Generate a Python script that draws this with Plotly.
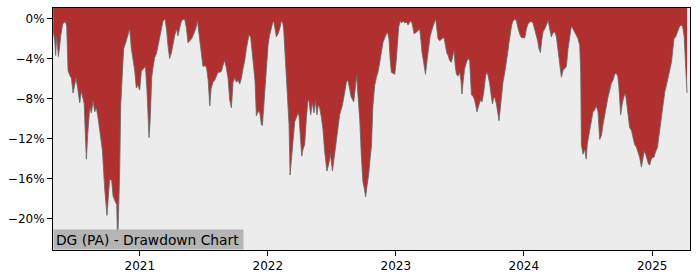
import pandas as pd
import plotly.graph_objects as go

# Time as decimal years, drawdown in percent
t_years = [
    2020.324, 2020.336, 2020.343, 2020.351, 2020.365, 2020.375, 2020.383, 2020.398, 2020.419, 2020.429,
    2020.440, 2020.453, 2020.466, 2020.479, 2020.492, 2020.502, 2020.515, 2020.531, 2020.544, 2020.554,
    2020.566, 2020.574, 2020.583, 2020.593, 2020.609, 2020.622, 2020.635, 2020.648, 2020.661, 2020.674,
    2020.687, 2020.708, 2020.726, 2020.744, 2020.753, 2020.765, 2020.781, 2020.791, 2020.808, 2020.820,
    2020.827, 2020.835, 2020.843, 2020.851, 2020.864, 2020.874, 2020.890, 2020.908, 2020.921, 2020.934,
    2020.947, 2020.960, 2020.973, 2020.986, 2020.999, 2021.012, 2021.030, 2021.044, 2021.056, 2021.072,
    2021.081, 2021.093, 2021.103, 2021.116, 2021.130, 2021.142, 2021.155,
    2021.169, 2021.181, 2021.197, 2021.210, 2021.220, 2021.233, 2021.247, 2021.259, 2021.272, 2021.286,
    2021.298, 2021.311, 2021.325, 2021.337, 2021.351, 2021.364, 2021.376, 2021.390, 2021.405, 2021.421,
    2021.436, 2021.450, 2021.462, 2021.475, 2021.493, 2021.511, 2021.522, 2021.534, 2021.546, 2021.557,
    2021.571, 2021.585, 2021.598, 2021.610, 2021.624, 2021.637, 2021.649, 2021.663, 2021.676, 2021.689,
    2021.702, 2021.715, 2021.728, 2021.741, 2021.754, 2021.767, 2021.780, 2021.793, 2021.806, 2021.819,
    2021.832, 2021.845, 2021.852, 2021.866, 2021.879, 2021.891, 2021.899, 2021.910, 2021.923, 2021.936,
    2021.949, 2021.957, 2021.967, 2021.977, 2021.988, 2021.993, 2022.001, 2022.012, 2022.027, 2022.037,
    2022.045, 2022.055, 2022.066, 2022.079, 2022.092, 2022.105, 2022.116, 2022.123, 2022.144, 2022.157,
    2022.165, 2022.173, 2022.183, 2022.196, 2022.209, 2022.225, 2022.235, 2022.243, 2022.254, 2022.264,
    2022.274, 2022.287, 2022.301, 2022.313, 2022.321, 2022.334, 2022.347, 2022.360, 2022.371, 2022.383,
    2022.393, 2022.404, 2022.418, 2022.430, 2022.443, 2022.461, 2022.475, 2022.488, 2022.504, 2022.516,
    2022.525, 2022.539, 2022.560, 2022.582, 2022.594, 2022.613, 2022.625, 2022.639, 2022.650, 2022.670,
    2022.681, 2022.693, 2022.703, 2022.717, 2022.730, 2022.742, 2022.753, 2022.763, 2022.775, 2022.787,
    2022.799, 2022.808, 2022.820, 2022.834, 2022.847, 2022.859, 2022.873, 2022.886, 2022.898, 2022.912,
    2022.925, 2022.935, 2022.945, 2022.955, 2022.964, 2022.977, 2022.990, 2023.002, 2023.011, 2023.021,
    2023.033, 2023.044, 2023.055, 2023.068, 2023.081, 2023.094, 2023.107, 2023.120, 2023.130, 2023.141,
    2023.154, 2023.167, 2023.185, 2023.195, 2023.203, 2023.216, 2023.230, 2023.244, 2023.255, 2023.267,
    2023.276, 2023.289, 2023.302, 2023.310, 2023.320, 2023.328, 2023.341, 2023.354, 2023.367, 2023.375,
    2023.384, 2023.396, 2023.407, 2023.419, 2023.432, 2023.443, 2023.453, 2023.462, 2023.472, 2023.484,
    2023.497, 2023.507, 2023.515, 2023.525, 2023.536, 2023.550, 2023.562, 2023.575, 2023.589, 2023.601,
    2023.614, 2023.632, 2023.646, 2023.659, 2023.671, 2023.685, 2023.700, 2023.710, 2023.718, 2023.731,
    2023.743, 2023.753, 2023.763, 2023.770, 2023.784, 2023.794, 2023.804, 2023.813, 2023.823, 2023.835,
    2023.849, 2023.862, 2023.872, 2023.882, 2023.893, 2023.903, 2023.913, 2023.927, 2023.938, 2023.948,
    2023.958, 2023.971, 2023.981, 2023.991, 2024.005, 2024.018, 2024.030, 2024.044, 2024.057, 2024.069,
    2024.083, 2024.096, 2024.106, 2024.116, 2024.127, 2024.137, 2024.148, 2024.161, 2024.174, 2024.188,
    2024.200, 2024.213, 2024.226, 2024.239, 2024.252, 2024.265, 2024.278, 2024.291, 2024.304, 2024.317,
    2024.330, 2024.343, 2024.356, 2024.369, 2024.382, 2024.395, 2024.408, 2024.421, 2024.434, 2024.442,
    2024.447, 2024.460, 2024.473, 2024.485, 2024.493, 2024.507, 2024.520, 2024.538, 2024.551, 2024.564,
    2024.577, 2024.590, 2024.603, 2024.616, 2024.629, 2024.642, 2024.655, 2024.668, 2024.681, 2024.694,
    2024.707, 2024.719, 2024.731, 2024.739, 2024.746, 2024.754, 2024.766, 2024.778, 2024.791, 2024.801,
    2024.813, 2024.824, 2024.838, 2024.850, 2024.863, 2024.877, 2024.889, 2024.902, 2024.916, 2024.926,
    2024.937, 2024.949, 2024.959, 2024.971, 2024.980, 2024.992, 2025.004, 2025.014, 2025.025, 2025.041,
    2025.051, 2025.062, 2025.076, 2025.087, 2025.098, 2025.111, 2025.123, 2025.137, 2025.150, 2025.160,
    2025.170, 2025.183, 2025.195, 2025.207, 2025.215, 2025.228, 2025.238, 2025.249, 2025.256, 2025.264,
    2025.272,
]

drawdown_pct = [
    -1.23, -2.22, -3.70, -1.83, -3.80, -2.42, -1.73, -0.54, -0.30, -0.74,
    -5.18, -5.68, -5.97, -7.45, -6.56, -5.97, -6.96, -8.44, -7.26, -7.85,
    -8.54, -11.30, -14.07, -11.60, -8.93, -9.43, -8.24, -9.33, -8.93, -9.92,
    -11.20, -13.18, -17.03, -19.69, -18.02, -16.04, -16.24, -17.72, -18.31, -18.61,
    -22.75, -19.99, -15.25, -8.64, -4.99, -3.01, -2.42, -1.43, -1.04, -3.01,
    -4.20, -5.18, -6.96, -6.66, -7.16, -5.28, -4.99, -4.79, -7.16, -11.90,
    -10.12, -5.87, -4.89, -3.90, -3.50, -2.71, -1.92,
    -1.04, -0.25, -0.05, -1.23, -2.71, -4.00, -3.41, -2.42, -1.73, -1.04,
    -1.73, -0.94, -0.25, -0.10, -0.10, -0.94, -2.42, -2.22, -2.02, -1.53,
    -1.04, -0.25, -1.43, -3.21, -4.79, -4.69, -4.99, -6.17, -8.74, -6.96,
    -6.37, -6.17, -5.77, -5.38, -5.38, -5.28, -4.69, -4.20, -4.99, -5.97,
    -8.14, -8.93, -6.37, -5.97, -6.37, -6.17, -6.56, -5.97, -4.99, -4.20,
    -3.01, -1.92, -1.63, -1.92, -3.70, -4.69, -6.17, -9.72, -9.33, -9.33,
    -10.61, -10.71, -8.64, -6.66, -4.39, -3.70, -2.71, -1.73, -0.74, -0.44,
    -0.25, -1.04, -1.83, -1.53, -1.04, -0.25, -0.44, -1.04, -5.38, -8.14,
    -10.61, -15.65, -14.07, -12.09, -10.32, -9.82, -9.43, -9.72, -12.09, -13.77,
    -13.08, -12.59, -9.82, -8.14, -8.24, -9.63, -8.44, -9.43, -8.24, -9.63,
    -8.64, -8.93, -9.92, -11.11, -13.28, -15.25, -14.56, -13.57, -15.25, -14.07,
    -13.28, -11.90, -9.63, -8.64, -7.85, -6.37, -6.17, -6.96, -7.85, -8.34,
    -6.96, -5.68, -7.65, -10.12, -13.87, -16.34, -17.03, -17.82, -16.63, -15.55,
    -13.87, -12.78, -8.64, -6.66, -5.87, -5.38, -4.39, -3.21, -2.42, -1.92,
    -1.53, -1.43, -2.02, -4.20, -5.38, -5.48, -5.58, -4.20, -2.02, -0.84,
    -0.25, -0.44, -0.25, -0.44, -0.35, -0.64, -0.35, -0.25, -0.74, -1.53,
    -1.43, -1.23, -1.04, -2.22, -3.41, -4.39, -5.58, -4.00, -2.71, -1.73,
    -1.33, -0.64, -0.25, -0.10, -1.23, -2.02, -2.22, -2.02, -1.92, -1.92,
    -2.71, -3.41, -3.70, -4.20, -4.39, -3.80, -3.21, -4.69, -5.58, -5.77,
    -5.38, -6.17, -7.55, -6.17, -4.99, -4.39, -4.00, -4.20, -7.65, -7.75,
    -8.14, -9.33, -8.54, -8.14, -8.34, -7.35, -5.68, -5.38, -5.68, -6.47,
    -7.65, -8.54, -7.95, -7.85, -8.54, -9.33, -10.22, -9.13, -7.85, -6.37,
    -5.38, -4.39, -3.41, -2.42, -1.43, -0.64, -0.25, -0.10, -0.15, -0.74,
    -1.23, -1.73, -1.92, -1.92, -1.92, -1.04, -0.54, -0.35, -0.30, -0.44,
    -1.04, -1.53, -2.22, -3.01, -3.41, -2.22, -1.33, -1.04, -0.54, -0.20,
    -1.04, -1.83, -1.43, -1.33, -1.83, -3.21, -4.89, -5.87, -5.18, -4.99,
    -4.79, -3.01, -1.73, -0.74, -1.04, -1.43, -1.73, -2.02, -2.71, -5.35,
    -12.59, -13.57, -13.08, -14.07, -12.59, -11.40, -10.61, -9.33, -9.13, -8.74,
    -9.33, -12.09, -11.70, -10.61, -9.63, -8.84, -7.85, -7.16, -6.47, -6.17,
    -5.58, -5.48, -5.77, -6.66, -8.34, -9.63, -8.54, -7.85, -7.45, -8.54,
    -9.63, -10.91, -11.20, -11.80, -12.59, -12.88, -13.28, -13.87, -14.86, -13.87,
    -13.28, -13.57, -14.07, -14.56, -14.66, -14.07, -13.87, -13.87, -13.38, -12.88,
    -11.90, -10.81, -9.63, -8.34, -7.35, -6.66, -5.97, -5.18, -4.39, -3.21,
    -2.02, -1.83, -1.43, -0.84, -0.74, -0.64, -0.84, -1.73, -3.70, -6.17,
    -7.45,
]

year_ticks = [2021, 2022, 2023, 2024, 2025]
y_ticks = [0, -4, -8, -12, -16, -20]
x_range_years = [2020.3224, 2025.295]
y_range = [-23.15, 1.05]
label_text = "DG (PA) - Drawdown Chart"

base = pd.Timestamp("2021-01-01")


def to_date(t):
    return base + pd.Timedelta(days=(t - 2021) * 365.25)


dates = [to_date(t) for t in t_years]
top_vals = [y_range[1]] * len(dates)

fig = go.Figure()
fig.add_trace(go.Scatter(
    x=dates, y=top_vals, mode="lines", line=dict(width=0, color="rgba(0,0,0,0)"),
    hoverinfo="skip", showlegend=False,
))
fig.add_trace(go.Scatter(
    x=dates, y=drawdown_pct, mode="lines",
    line=dict(color="rgba(105,105,105,0.85)", width=1),
    fill="tonexty", fillcolor="#b03030",
    showlegend=False,
))

axis_font = dict(family="DejaVu Sans", size=12, color="#000000")

fig.update_layout(
    width=700, height=280,
    margin=dict(l=53, r=10, t=7, b=28),
    paper_bgcolor="#ffffff",
    plot_bgcolor="#ececec",
    font=axis_font,
    showlegend=False,
    xaxis=dict(
        type="date",
        range=[to_date(x_range_years[0]), to_date(x_range_years[1])],
        tickvals=[pd.Timestamp(f"{y}-01-01") for y in year_ticks],
        ticktext=[str(y) for y in year_ticks],
        ticks="outside", ticklen=5, tickcolor="#000000", tickwidth=1,
        showline=True, linecolor="#000000", linewidth=1, mirror=True,
        showgrid=False, zeroline=False,
        tickfont=axis_font,
    ),
    yaxis=dict(
        range=y_range,
        tickvals=y_ticks,
        ticktext=[("\u2212" if v < 0 else "") + f"{abs(v)}%" for v in y_ticks],
        ticks="outside", ticklen=5, tickcolor="#000000", tickwidth=1,
        showline=True, linecolor="#000000", linewidth=1, mirror=True,
        showgrid=False, zeroline=False,
        tickfont=axis_font,
    ),
    annotations=[dict(
        text=label_text, xref="paper", yref="paper", x=0, y=0,
        xanchor="left", yanchor="bottom", showarrow=False,
        font=dict(family="DejaVu Sans", size=13.8, color="#000000"),
        bgcolor="#b4b4b4", borderpad=2, width=185, height=15,
        align="left", valign="middle",
    )],
)

fig.write_html("out.html")
